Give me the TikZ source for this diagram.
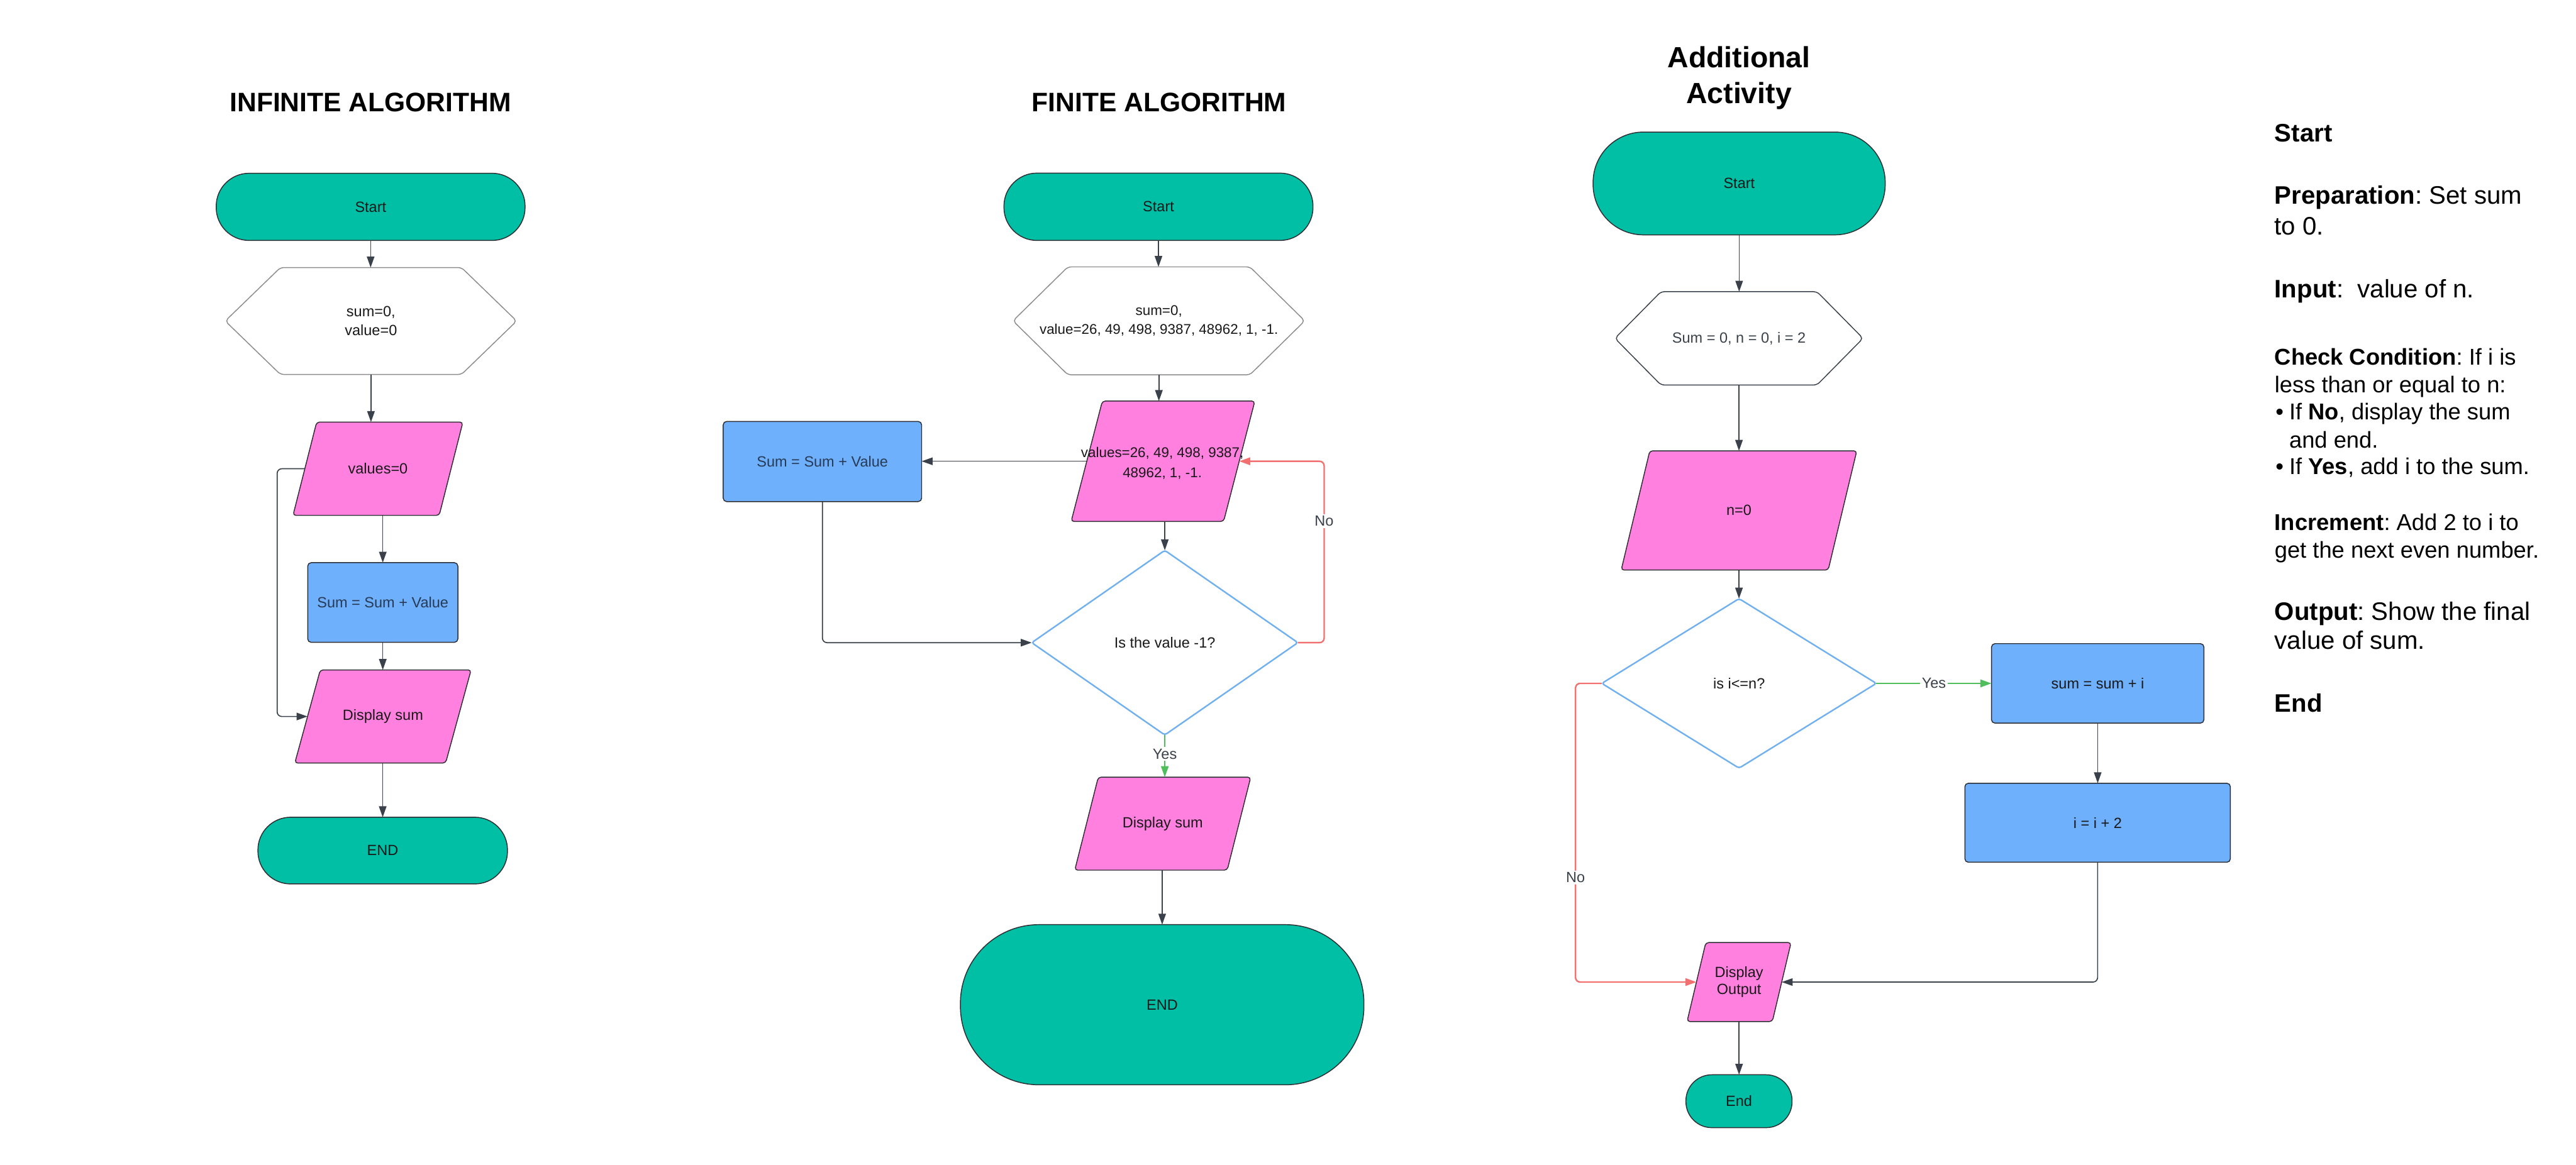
\documentclass[tikz,border=0pt]{standalone}
\usepackage{fontspec}
\setmainfont{Liberation Sans}
\usetikzlibrary{arrows.meta,backgrounds,calc}
\frenchspacing
\definecolor{tealc}{RGB}{0,191,165}
\definecolor{pinkc}{RGB}{255,128,223}
\definecolor{bluec}{RGB}{110,176,252}
\definecolor{diamc}{RGB}{112,176,238}
\definecolor{redl}{RGB}{242,112,112}
\definecolor{greenl}{RGB}{80,190,90}
\definecolor{lineg}{RGB}{58,65,74}
\definecolor{edgec}{RGB}{45,45,50}
\definecolor{hexc}{RGB}{140,140,140}
\definecolor{navyc}{RGB}{40,58,85}
\def\ux{0.05cm}
\newcommand\nfont{\fontsize{12.8}{16.4}\selectfont}
\newcommand\vfont{\fontsize{12.2}{16.5}\selectfont}
\newcommand\pfont{\fontsize{12.2}{17.6}\selectfont}
\newcommand\dfont{\fontsize{12.8}{14.4}\selectfont}
\newcommand\tfont{\fontsize{23.2}{28}\selectfont\bfseries}
\newcommand\afont{\fontsize{25.3}{31}\selectfont\bfseries}
\newcommand\rfont{\fontsize{21.9}{26}\selectfont}
\newcommand\sfont{\fontsize{19.8}{24}\selectfont}
\newcommand\drawhex[3]{%
  \path[#3] (#1.north) -- ([xshift=-#2*\ux]#1.north east) -- (#1.east)
    -- ([xshift=-#2*\ux]#1.south east) -- ([xshift=#2*\ux]#1.south west)
    -- (#1.west) -- ([xshift=#2*\ux]#1.north west) -- cycle;}
\newcommand\drawpara[3]{%
  \path[#3] ([xshift=#2*\ux/2]#1.north) -- ([xshift=#2*\ux/2]#1.north east)
    -- ([xshift=-#2*\ux/2]#1.south east) -- ([xshift=-#2*\ux/2]#1.south west)
    -- ([xshift=#2*\ux/2]#1.north west) -- cycle;}
\newcommand\drawdiam[2]{%
  \path[#2] ($(#1.north)!0.5!(#1.east)$) -- (#1.east) -- (#1.south)
    -- (#1.west) -- (#1.north) -- cycle;}
\tikzset{
  nb/.style={inner sep=0pt, outer sep=0pt, align=center, font=\nfont, text=black!90},
  ph/.style 2 args={nb, minimum width={#1*\ux}, minimum height={#2*\ux}},
  term/.style 2 args={nb, draw=edgec, line width=0.8pt, fill=tealc,
    minimum width={#1*\ux}, minimum height={#2*\ux}, rounded corners={#2*\ux*0.49}},
  proc/.style 2 args={nb, draw=edgec, line width=0.8pt, fill=bluec,
    minimum width={#1*\ux}, minimum height={#2*\ux}, rounded corners=3pt},
  hexs/.style={draw=hexc, line width=0.8pt, fill=white, rounded corners=3pt},
  hexd/.style={draw=lineg, line width=0.8pt, fill=white, rounded corners=3pt},
  paras/.style={draw=edgec, line width=0.8pt, fill=pinkc, rounded corners=2.5pt},
  diams/.style={draw=diamc, line width=1.3pt, fill=white, rounded corners=2pt},
  conn/.style={draw=lineg, line width=0.9pt, -{Triangle[length=9.5pt,width=6.5pt]}},
  noline/.style={draw=redl, line width=1.3pt, -{Triangle[length=9.5pt,width=6.5pt]}, rounded corners=4pt},
  yesline/.style={draw=greenl, line width=1.3pt, -{Triangle[length=9.5pt,width=6.5pt]}},
  lbl/.style={fill=white, inner sep=1.5pt, font=\nfont, text=lineg},
  title/.style={anchor=base, inner sep=0pt, font=\tfont},
  rp/.style={anchor=base west, inner sep=0pt, font=\rfont},
  rs/.style={anchor=base west, inner sep=0pt, font=\sfont}
}
\begin{document}
\begin{tikzpicture}[x=0.05cm,y=-0.05cm]
\useasboundingbox (0,0) rectangle (1568,709);

% ---------- titles
\node[title] (ttl1) at (225.5,68) {INFINITE ALGORITHM};
\node[title] (ttl2) at (705.5,68) {FINITE ALGORITHM};
\node[title, font=\afont] (ttl3a) at (1058.5,41) {Additional};
\node[title, font=\afont] (ttl3b) at (1058.5,63) {Activity};

% ---------- infinite algorithm
\node[term={188}{40.9}] (t1) at (225.6,125.95) {Start};
\node[ph={177.4}{65.1}] (h1) at (225.8,195.45) {sum=0,\\value=0};
\node[ph={89}{56.8}] (p1) at (230.05,285.4) {values=0};
\node[proc={91.4}{48.5}, text=navyc] (b1) at (233,366.85) {Sum = Sum + Value};
\node[ph={91.8}{56.7}] (d1) at (233.1,436.25) {Display sum};
\node[term={151.9}{40.6}] (t2) at (232.95,517.9) {END};

% ---------- finite algorithm
\node[term={188.1}{41}] (t3) at (705.15,125.9) {Start};
\node[ph={177.6}{65.7}, font=\vfont] (h2) at (705.4,195.35) {sum=0,\\value=26, 49, 498, 9387, 48962, 1, -1.};
\node[ph={92.8}{73.3}] (p2) at (707.9,280.85) {};
\node[nb, font=\pfont] (p2t) at (707.5,282) {values=26, 49, 498, 9387,\\48962, 1, -1.};
\node[proc={120.8}{48.8}, text=navyc] (b2) at (500.6,281) {Sum = Sum + Value};
\node[ph={162}{112.4}] (dm2) at (709,391.3) {Is the value -1?};
\node[ph={92.8}{56.6}] (d2) at (707.75,501.5) {Display sum};
\node[term={245.6}{97.5}] (t4) at (707.4,611.75) {END};

% ---------- additional activity
\node[term={177.8}{62.6}] (t5) at (1058.6,111.7) {Start};
\node[ph={151}{56.8}, text=lineg] (h3) at (1058.5,206) {Sum = 0, n = 0, i = 2};
\node[ph={126}{72.6}] (p3) at (1058.5,310.8) {n=0};
\node[ph={167.1}{103.2}] (dm3) at (1058.55,416.1) {is i<=n?};
\node[proc={129.3}{48.4}] (b3) at (1276.85,416.1) {sum = sum + i};
\node[proc={161.6}{48.1}] (b4) at (1276.8,500.95) {i = i + 2};
\node[ph={51.9}{48.1}, font=\dfont] (p4) at (1058.55,597.95) {Display\\Output};
\node[term={64.6}{32.2}] (t6) at (1058.5,670.5) {End};

% ---------- shapes behind the texts
\begin{scope}[on background layer]
  \drawhex{h1}{33.6}{hexs}
  \drawhex{h2}{33.4}{hexs}
  \drawhex{h3}{28}{hexd}
  \drawpara{p1}{14.4}{paras}
  \drawpara{d1}{15.5}{paras}
  \drawpara{p2}{19}{paras}
  \drawpara{d2}{14.3}{paras}
  \drawpara{p3}{17.4}{paras}
  \drawpara{p4}{11.4}{paras}
  \drawdiam{dm2}{diams}
  \drawdiam{dm3}{diams}
\end{scope}

% ---------- connectors: infinite
\draw[conn] (t1.south) -- (t1.south |- h1.north);
\draw[conn] (h1.south) -- (h1.south |- p1.north);
\draw[conn] (b1.north |- p1.south) -- (b1.north);
\draw[conn] (b1.south) -- (b1.south |- d1.north);
\draw[conn] (t2.north |- d1.south) -- (t2.north);
\coordinate (c1) at (168.7,0);
\draw[conn, rounded corners=4pt] (p1.west) -- (p1.west -| c1) -- (d1.west -| c1) -- (d1.west);

% ---------- connectors: finite
\draw[conn] (t3.south) -- (t3.south |- h2.north);
\draw[conn] (h2.south) -- (h2.south |- p2.north);
\draw[conn] (p2.west) -- (p2.west -| b2.east);
\draw[conn, rounded corners=4pt] (b2.south) |- (dm2.west);
\draw[conn] (dm2.north |- p2.south) -- (dm2.north);
\coordinate (c2) at (806,0);
\draw[noline] (dm2.east) -- (dm2.east -| c2) -- node[lbl, pos=0.67] {No} (p2.east -| c2) -- (p2.east);
\draw[yesline] (dm2.south) -- node[lbl, pos=0.45] {Yes} (dm2.south |- d2.north);
\draw[conn] (t4.north |- d2.south) -- (t4.north);

% ---------- connectors: additional activity
\draw[conn] (t5.south) -- (t5.south |- h3.north);
\draw[conn] (h3.south) -- (h3.south |- p3.north);
\draw[conn] (p3.south) -- (p3.south |- dm3.north);
\draw[yesline] (dm3.east) -- node[lbl] {Yes} (dm3.east -| b3.west);
\draw[conn] (b3.south) -- (b3.south |- b4.north);
\draw[conn, rounded corners=4pt] (b4.south) |- (p4.east);
\coordinate (c3) at (959,0);
\draw[noline] (dm3.west) -- (dm3.west -| c3) -- node[lbl, pos=0.65] {No} (p4.west -| c3) -- (p4.west);
\draw[conn] (p4.south) -- (p4.south |- t6.north);

% ---------- right text panel
\node[rp] (r1) at (1384.4,86.5) {\textbf{Start}};
\node[rp] (r2) at (1384.4,124.4) {\textbf{Preparation}: Set sum};
\node[rp] (r3) at (1384.4,142.9) {to 0.};
\node[rp] (r4) at (1384.4,181.3) {\textbf{Input}:\ \ value of n.};
\node[rs] (r5) at (1384.4,222.1) {\textbf{Check Condition}: If i is};
\node[rs] (r6) at (1384.4,239) {less than or equal to n:};
\node[rs] (r7b) at (1385,255.6) {•};
\node[rs] (r7) at (1393.3,255.6) {If \textbf{No}, display the sum};
\node[rs] (r8) at (1393.3,272.8) {and end.};
\node[rs] (r9b) at (1385,288.9) {•};
\node[rs] (r9) at (1393.3,288.9) {If \textbf{Yes}, add i to the sum.};
\node[rs] (r10) at (1384.4,323) {\textbf{Increment}: Add 2 to i to};
\node[rs] (r11) at (1384.4,339.7) {get the next even number.};
\node[rp] (r12) at (1384.4,377.5) {\textbf{Output}: Show the final};
\node[rp] (r13) at (1384.4,395.3) {value of sum.};
\node[rp] (r14) at (1384.4,433.7) {\textbf{End}};
\end{tikzpicture}
\end{document}
